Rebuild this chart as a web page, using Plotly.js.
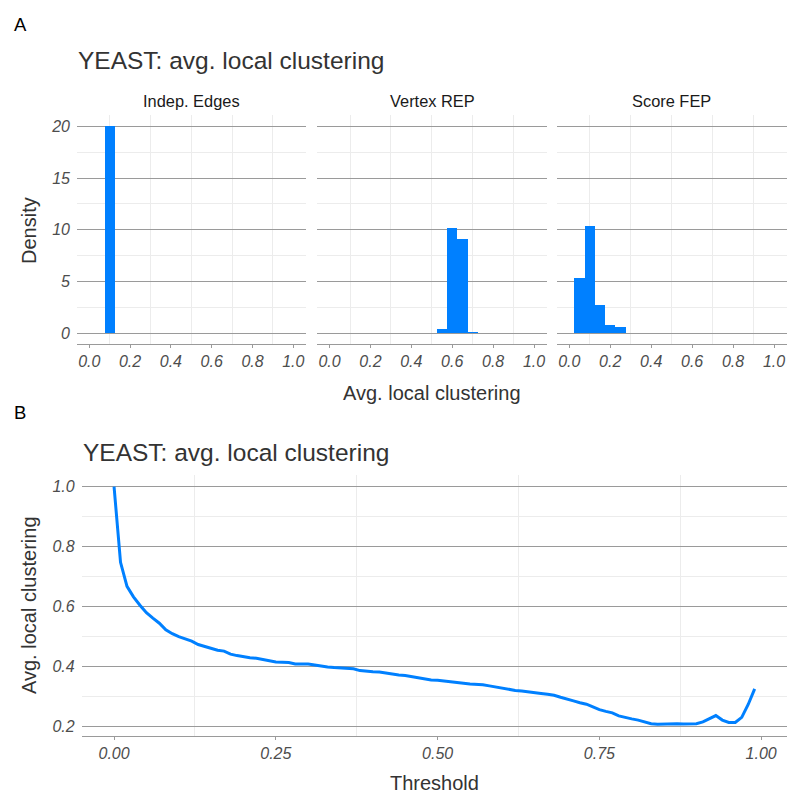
<!DOCTYPE html>
<html>
<head>
<meta charset="utf-8">
<script src="https://cdn.plot.ly/plotly-3.0.1.min.js"></script>
<style>
  html, body { margin: 0; padding: 0; background: #ffffff; }
  #chart { width: 787px; height: 794px; }
</style>
</head>
<body>
<div id="chart"></div>
<script>
// Histogram panels (density, bin width 0.05)
const facetNames = ["Indep. Edges", "Vertex REP", "Score FEP"];
const binWidth = 0.05;

const indepCenters = [0.10];
const indepDensity = [20.0];

const vertexCenters = [0.55, 0.60, 0.65, 0.70];
const vertexDensity = [0.42, 10.2, 9.06, 0.10];

const scoreCenters = [0.05, 0.10, 0.15, 0.20, 0.25];
const scoreDensity = [5.35, 10.36, 2.74, 0.74, 0.58];

// Threshold sweep
const threshold = [
  0.00, 0.01, 0.02, 0.03, 0.04, 0.05, 0.06, 0.07, 0.08, 0.09,
  0.10, 0.11, 0.12, 0.13, 0.14, 0.15, 0.16, 0.17, 0.18, 0.19,
  0.20, 0.21, 0.22, 0.23, 0.24, 0.25, 0.26, 0.27, 0.28, 0.29,
  0.30, 0.31, 0.32, 0.33, 0.34, 0.35, 0.36, 0.37, 0.38, 0.39,
  0.40, 0.41, 0.42, 0.43, 0.44, 0.45, 0.46, 0.47, 0.48, 0.49,
  0.50, 0.51, 0.52, 0.53, 0.54, 0.55, 0.56, 0.57, 0.58, 0.59,
  0.60, 0.61, 0.62, 0.63, 0.64, 0.65, 0.66, 0.67, 0.68, 0.69,
  0.70, 0.71, 0.72, 0.73, 0.74, 0.75, 0.76, 0.77, 0.78, 0.79,
  0.80, 0.81, 0.82, 0.83, 0.84, 0.85, 0.86, 0.87, 0.88, 0.89,
  0.90, 0.91, 0.92, 0.93, 0.94, 0.95, 0.96, 0.97, 0.98, 0.99
];
const avgClustering = [
  1.000, 0.748, 0.668, 0.633, 0.605, 0.580, 0.562, 0.545, 0.523, 0.510,
  0.500, 0.492, 0.485, 0.474, 0.467, 0.461, 0.455, 0.452, 0.442, 0.437,
  0.433, 0.430, 0.428, 0.424, 0.419, 0.416, 0.415, 0.414, 0.409, 0.409,
  0.409, 0.406, 0.402, 0.399, 0.397, 0.396, 0.396, 0.393, 0.387, 0.384,
  0.383, 0.382, 0.378, 0.374, 0.372, 0.371, 0.367, 0.363, 0.359, 0.356,
  0.355, 0.353, 0.351, 0.348, 0.345, 0.342, 0.341, 0.340, 0.336, 0.332,
  0.328, 0.324, 0.321, 0.319, 0.317, 0.315, 0.311, 0.308, 0.305, 0.298,
  0.291, 0.286, 0.280, 0.275, 0.266, 0.257, 0.251, 0.246, 0.236, 0.230,
  0.226, 0.222, 0.215, 0.210, 0.208, 0.209, 0.211, 0.210, 0.209, 0.209,
  0.210, 0.216, 0.226, 0.237, 0.222, 0.214, 0.214, 0.231, 0.274, 0.326
];

const W = 787, H = 794;
const px = v => v / W;            // horizontal pixel -> paper
const py = v => (H - v) / H;      // vertical pixel (from top) -> paper

const blue = "#0080ff";
const majorGrid = "#9a9a9a";
const minorGrid = "#ececec";
const FAMILY = "Liberation Sans, Arial, sans-serif";
const tickFont = { family: FAMILY, size: 16, color: "#4d4d4d", style: "italic" };
const textFont = (size, color) => ({ family: FAMILY, size: size, color: color || "#333333" });

function barTrace(xs, ys, xa, ya) {
  return {
    type: "bar", x: xs, y: ys, width: xs.map(() => binWidth),
    xaxis: xa, yaxis: ya,
    marker: { color: blue, line: { width: 0 } },
    hoverinfo: "x+y", showlegend: false
  };
}

const traces = [
  barTrace(indepCenters, indepDensity, "x", "y"),
  barTrace(vertexCenters, vertexDensity, "x2", "y2"),
  barTrace(scoreCenters, scoreDensity, "x3", "y3"),
  {
    type: "scatter", mode: "lines", x: threshold, y: avgClustering,
    xaxis: "x4", yaxis: "y4",
    line: { color: blue, width: 3 }, showlegend: false
  }
];

function histX(domain) {
  return {
    domain: domain, range: [-0.06, 1.062], fixedrange: true,
    tickvals: [0, 0.2, 0.4, 0.6, 0.8, 1.0], tickformat: ".1f",
    showgrid: false, zeroline: false,
    showline: true, linecolor: majorGrid, linewidth: 1,
    ticks: "outside", ticklen: 3, tickcolor: majorGrid, tickwidth: 1,
    tickfont: tickFont,
    minor: { showgrid: true, tick0: 0.1, dtick: 0.2, gridcolor: minorGrid, gridwidth: 1 }
  };
}
function histY(anchor, showLabels) {
  return {
    domain: [py(344), py(115)], range: [-1.05, 21.1], fixedrange: true, anchor: anchor,
    tickvals: [0, 5, 10, 15, 20], showticklabels: showLabels,
    showgrid: true, gridcolor: majorGrid, gridwidth: 1, zeroline: false,
    showline: false, ticks: "", ticklabelstandoff: 6,
    tickfont: tickFont,
    minor: { showgrid: true, tick0: 2.5, dtick: 5, gridcolor: minorGrid, gridwidth: 1 }
  };
}

const layout = {
  width: W, height: H,
  margin: { l: 0, r: 0, t: 0, b: 0 },
  paper_bgcolor: "#ffffff", plot_bgcolor: "#ffffff",
  bargap: 0,
  xaxis: Object.assign(histX([px(77), px(306)]), { anchor: "y" }),
  xaxis2: Object.assign(histX([px(317.3), px(546.7)]), { anchor: "y2" }),
  xaxis3: Object.assign(histX([px(557), px(786.7)]), { anchor: "y3" }),
  yaxis: histY("x", true),
  yaxis2: histY("x2", false),
  yaxis3: histY("x3", false),
  xaxis4: {
    domain: [px(81.7), px(786.7)], anchor: "y4", range: [-0.05, 1.0395], fixedrange: true,
    tickvals: [0, 0.25, 0.5, 0.75, 1.0], tickformat: ".2f",
    showgrid: false, zeroline: false,
    showline: true, linecolor: majorGrid, linewidth: 1,
    ticks: "outside", ticklen: 3, tickcolor: majorGrid, tickwidth: 1,
    tickfont: tickFont,
    minor: { showgrid: true, tick0: 0.125, dtick: 0.25, gridcolor: minorGrid, gridwidth: 1 }
  },
  yaxis4: {
    domain: [py(736), py(475)], anchor: "x4", range: [0.169, 1.039], fixedrange: true,
    tickvals: [0.2, 0.4, 0.6, 0.8, 1.0], tickformat: ".1f",
    showgrid: true, gridcolor: majorGrid, gridwidth: 1, zeroline: false,
    showline: false, ticks: "", ticklabelstandoff: 6,
    tickfont: tickFont,
    minor: { showgrid: true, tick0: 0.1, dtick: 0.2, gridcolor: minorGrid, gridwidth: 1 }
  },
  annotations: [
    { text: "A", x: px(12), y: py(25), xref: "paper", yref: "paper", xanchor: "left", yanchor: "middle", showarrow: false, font: textFont(18.5, "#000000") },
    { text: "YEAST: avg. local clustering", x: px(76), y: py(60), xref: "paper", yref: "paper", xanchor: "left", yanchor: "middle", showarrow: false, font: textFont(24.5) },
    { text: facetNames[0], x: px(191.5), y: py(101), xref: "paper", yref: "paper", xanchor: "center", yanchor: "middle", showarrow: false, font: textFont(16.4, "#1a1a1a") },
    { text: facetNames[1], x: px(432), y: py(101), xref: "paper", yref: "paper", xanchor: "center", yanchor: "middle", showarrow: false, font: textFont(16.4, "#1a1a1a") },
    { text: facetNames[2], x: px(671.8), y: py(101), xref: "paper", yref: "paper", xanchor: "center", yanchor: "middle", showarrow: false, font: textFont(16.4, "#1a1a1a") },
    { text: "Density", x: px(29), y: py(230), xref: "paper", yref: "paper", xanchor: "center", yanchor: "middle", textangle: -90, showarrow: false, font: textFont(20) },
    { text: "Avg. local clustering", x: px(432), y: py(393), xref: "paper", yref: "paper", xanchor: "center", yanchor: "middle", showarrow: false, font: textFont(20) },
    { text: "B", x: px(12), y: py(412), xref: "paper", yref: "paper", xanchor: "left", yanchor: "middle", showarrow: false, font: textFont(18.5, "#000000") },
    { text: "YEAST: avg. local clustering", x: px(81), y: py(452), xref: "paper", yref: "paper", xanchor: "left", yanchor: "middle", showarrow: false, font: textFont(24.5) },
    { text: "Avg. local clustering", x: px(29), y: py(605), xref: "paper", yref: "paper", xanchor: "center", yanchor: "middle", textangle: -90, showarrow: false, font: textFont(20) },
    { text: "Threshold", x: px(434), y: py(783), xref: "paper", yref: "paper", xanchor: "center", yanchor: "middle", showarrow: false, font: textFont(20) }
  ]
};

Plotly.newPlot("chart", traces, layout, { displayModeBar: false, staticPlot: true });
</script>
</body>
</html>
